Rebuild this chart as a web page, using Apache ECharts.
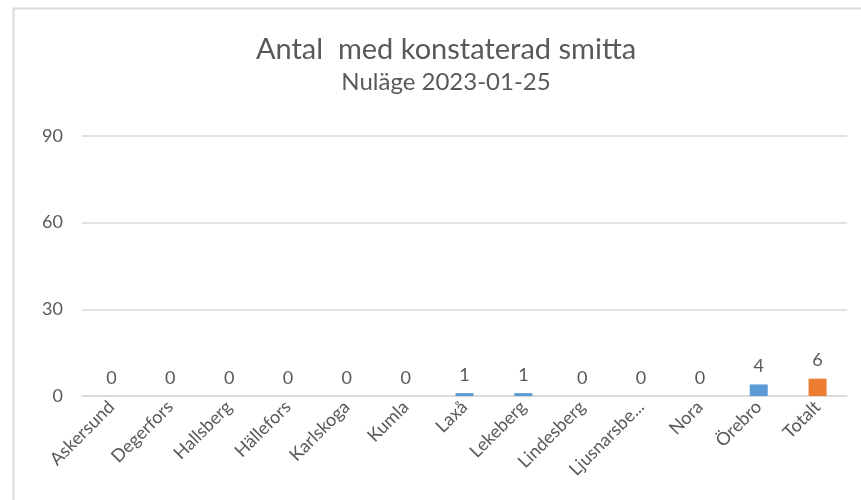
<!DOCTYPE html>
<html>
<head>
<meta charset="utf-8">
<script src="https://cdn.jsdelivr.net/npm/echarts@6/dist/echarts.min.js"></script>
<style>
  html, body { margin: 0; padding: 0; background: #fff; }
  #chart { width: 861px; height: 500px; }
</style>
</head>
<body>
<div id="chart"></div>
<script>
// kommuner och antal
const categories = ['Askersund', 'Degerfors', 'Hallsberg', 'Hällefors', 'Karlskoga', 'Kumla',
  'Laxå', 'Lekeberg', 'Lindesberg', 'Ljusnarsberg', 'Nora', 'Örebro', 'Totalt'];
const values = [0, 0, 0, 0, 0, 0, 1, 1, 0, 0, 0, 4, 6];
const yTicks = [0, 30, 60, 90];

const textColor = '#595959';
const font = 'Lato, "Open Sans", sans-serif';

const chart = echarts.init(document.getElementById('chart'));

chart.setOption({
  animation: false,
  textStyle: { fontFamily: font },
  title: {
    text: 'Antal  med konstaterad smitta',
    subtext: 'Nuläge 2023-01-25',
    left: 441,
    textAlign: 'center',
    top: 30,
    itemGap: 6,
    textStyle: { color: textColor, fontSize: 29, fontWeight: 'normal', fontFamily: font },
    subtextStyle: { color: textColor, fontSize: 24, fontFamily: font }
  },
  graphic: [{
    // ram runt diagrammet
    type: 'rect',
    shape: { x: 13.5, y: 8.5, width: 900, height: 520 },
    style: { fill: 'none', stroke: '#d9d9d9', lineWidth: 2 },
    silent: true
  }],
  grid: { left: 82, right: 14, top: 136, bottom: 104 },
  xAxis: {
    type: 'category',
    data: categories,
    axisTick: { show: false },
    axisLine: { lineStyle: { color: '#d9d9d9', width: 1.5 } },
    axisLabel: {
      color: textColor,
      fontSize: 18,
      rotate: 45,
      interval: 0,
      margin: 8,
      formatter: (v) => v.length > 11 ? v.slice(0, 10) + '...' : v
    }
  },
  yAxis: {
    type: 'value',
    min: yTicks[0],
    max: yTicks[yTicks.length - 1],
    interval: 30,
    axisLine: { show: false },
    axisTick: { show: false },
    axisLabel: { color: textColor, fontSize: 18, margin: 19 },
    splitLine: { lineStyle: { color: '#d9d9d9', width: 1.5 } }
  },
  series: [{
    type: 'bar',
    barWidth: 18,
    data: values.map((v, i) => ({
      value: v,
      itemStyle: { color: i === categories.length - 1 ? '#ed7d31' : '#5b9bd5' }
    })),
    label: {
      show: true,
      position: 'top',
      distance: 9,
      color: textColor,
      fontSize: 18
    }
  }]
});
</script>
</body>
</html>
